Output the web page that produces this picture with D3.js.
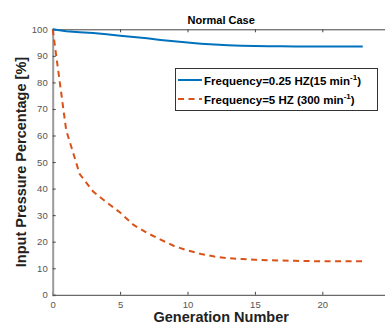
<!DOCTYPE html>
<html><head><meta charset="utf-8">
<script src="https://cdn.jsdelivr.net/npm/d3@7"></script>
<style>body{margin:0;background:#fff}svg{display:block}text{font-family:"Liberation Sans",Arial,sans-serif}</style>
</head><body>
<script>
const generations = d3.range(0, 24);
const lowFreq = [100, 99.3, 98.9, 98.6, 98.1, 97.6, 97.1, 96.6, 96.0, 95.5, 95.0, 94.6, 94.3, 94.0, 93.8, 93.7, 93.6, 93.6, 93.5, 93.5, 93.5, 93.5, 93.5, 93.5];
const highFreq = [100, 62, 45.5, 38.9, 34.8, 31.0, 26.3, 23.3, 20.8, 18.4, 16.7, 15.4, 14.4, 13.8, 13.5, 13.2, 13.0, 12.9, 12.8, 12.7, 12.6, 12.6, 12.6, 12.6];
const xTicks = [0, 5, 10, 15, 20, 25];
const yTicks = [0, 10, 20, 30, 40, 50, 60, 70, 80, 90, 100];
const title = "Normal Case";
const xLabel = "Generation Number";
const yLabel = "Input Pressure Percentage [%]";

const W = 385, H = 329;
const svg = d3.select("body").append("svg").attr("width", W).attr("height", H);
const x = d3.scaleLinear().domain([0, 25]).range([52.7, 389.7]);
const y = d3.scaleLinear().domain([0, 100]).range([294.8, 29.3]);

// axes
const gx = svg.append("g").attr("transform", `translate(0,${y(0)})`)
  .call(d3.axisBottom(x).tickValues(xTicks).tickSize(-3).tickPadding(6).tickFormat(d3.format("d")));
const gxt = svg.append("g").attr("transform", `translate(0,${y(100)})`)
  .call(d3.axisTop(x).tickValues(xTicks).tickSize(-3).tickFormat(""));
const gy = svg.append("g").attr("transform", `translate(${x(0)},0)`)
  .call(d3.axisLeft(y).tickValues(yTicks).tickSize(-3).tickPadding(5).tickFormat(d3.format("d")));
[gx, gxt, gy].forEach(g => {
  g.selectAll("text").attr("fill", "#555").style("font-size", "9.5px");
  g.selectAll("line").attr("stroke", "#444");
  g.select(".domain").attr("stroke", "#444");
});
gy.select(".domain").attr("stroke", "#9a9a9a").attr("stroke-width", 2);

// lines
const line = d3.line().x((d, i) => x(generations[i])).y(d => y(d));
svg.append("path").datum(highFreq).attr("d", line).attr("fill", "none")
  .attr("stroke", "#D95319").attr("stroke-width", 2).attr("stroke-dasharray", "6,4.5");
svg.append("path").datum(lowFreq).attr("d", line).attr("fill", "none")
  .attr("stroke", "#0072BD").attr("stroke-width", 2);

// title
svg.append("text").attr("x", (x(0) + x(25)) / 2).attr("y", 24).attr("text-anchor", "middle")
  .style("font-size", "11px").style("font-weight", "bold").attr("fill", "#000").text(title);
svg.append("text").attr("x", (x(0) + x(25)) / 2).attr("y", 322).attr("text-anchor", "middle")
  .style("font-size", "14.5px").style("font-weight", "bold").attr("fill", "#222").text(xLabel);
svg.append("text").attr("transform", `translate(26,${(y(0) + y(100)) / 2}) rotate(-90)`).attr("text-anchor", "middle")
  .style("font-size", "14.5px").style("font-weight", "bold").attr("fill", "#222").text(yLabel);

// legend
const lg = svg.append("g");
lg.append("rect").attr("x", 175.5).attr("y", 68.5).attr("width", 202).attr("height", 42)
  .attr("fill", "#fff").attr("stroke", "#333").attr("stroke-width", 1);
const items = [
  {color: "#0072BD", dash: null, pre: "Frequency=0.25 HZ(15 min", post: ")", yy: 80},
  {color: "#D95319", dash: "6,4.5", pre: "Frequency=5 HZ (300 min", post: ")", yy: 99}
];
items.forEach(it => {
  lg.append("line").attr("x1", 178).attr("x2", 202).attr("y1", it.yy).attr("y2", it.yy)
    .attr("stroke", it.color).attr("stroke-width", 2).attr("stroke-dasharray", it.dash);
  const t = lg.append("text").attr("x", 204).attr("y", it.yy + 4.5)
    .style("font-size", "11.5px").style("font-weight", "bold").attr("fill", "#000");
  t.append("tspan").text(it.pre);
  t.append("tspan").attr("dy", -5).style("font-size", "8px").text("-1");
  t.append("tspan").attr("dy", 5).text(it.post);
});
</script>
</body></html>
